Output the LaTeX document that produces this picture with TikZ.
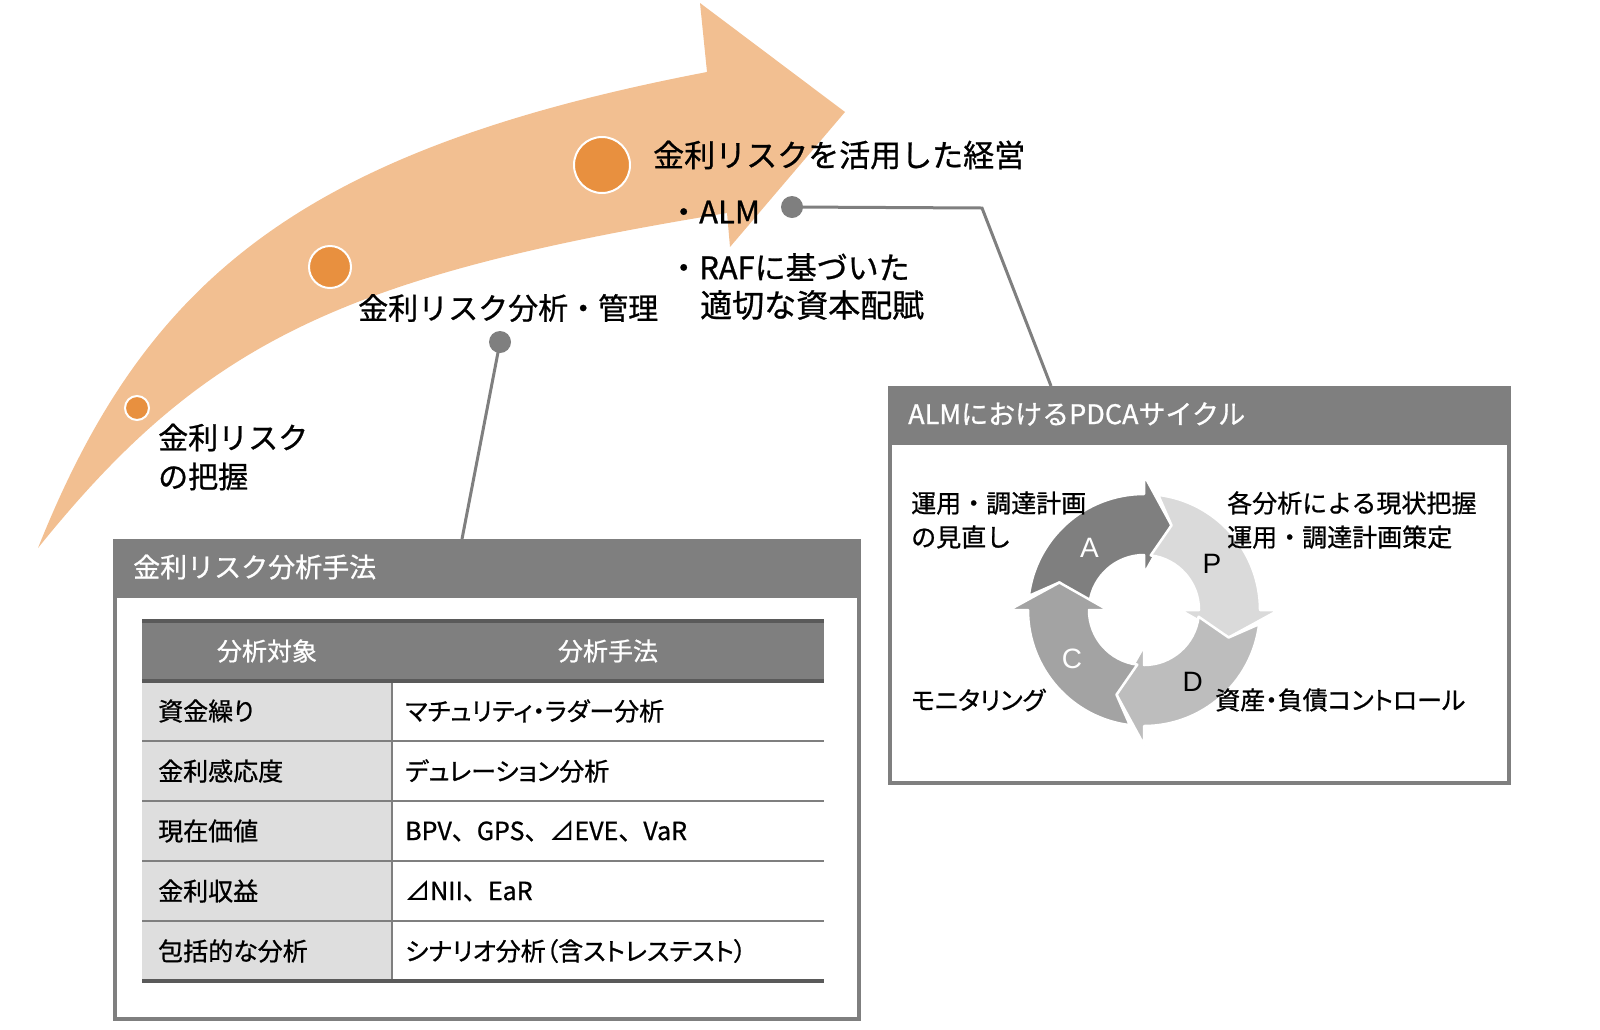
\documentclass[tikz,border=0pt]{standalone}
\usepackage{fontspec}
\setmainfont{Noto Sans CJK JP}[FakeBold=0.8]
\newfontfamily\jpp{Noto Sans CJK JP}[FakeBold=0.8, RawFeature=+palt]
\newfontfamily\latfont{Liberation Sans}
\usepackage{tikz}
\usetikzlibrary{positioning}
\definecolor{eOrange}{HTML}{F2BF91}
\definecolor{eDot}{HTML}{E8903F}
\definecolor{eGray}{HTML}{7F7F7F}
\definecolor{eDark}{HTML}{5A5A5A}
\definecolor{eCell}{HTML}{DEDEDE}
\definecolor{cA}{HTML}{7F7F7F}
\definecolor{cP}{HTML}{DADADA}
\definecolor{cD}{HTML}{BDBDBD}
\definecolor{cC}{HTML}{A3A3A3}
\tikzset{stage/.style={circle, draw=white, line width=2pt, fill=eDot, inner sep=0pt}}
\tikzset{knob/.style={circle, fill=eGray, inner sep=0pt, minimum size=22pt}}
\tikzset{conn/.style={draw, eGray, line width=3pt}}
\tikzset{txt/.style={anchor=west, inner sep=0pt, align=left,
  font=\fontsize{31pt}{39pt}\selectfont}}
\tikzset{frame/.style={draw=eGray, line width=4pt, fill=white, inner sep=0pt,
  anchor=north west}}
\tikzset{band/.style={draw=eGray, line width=4pt, fill=eGray, inner sep=0pt,
  anchor=north west, minimum height=55pt}}
\tikzset{ttl/.style={anchor=west, inner sep=0pt, white,
  font=\fontsize{27pt}{32pt}\selectfont}}
\tikzset{cell/.style={anchor=west, inner sep=0pt,
  font=\jpp\fontsize{25pt}{30pt}\selectfont}}
\tikzset{hcell/.style={inner sep=0pt, white, font=\fontsize{25pt}{30pt}\selectfont}}
\tikzset{lbl/.style={anchor=west, inner sep=0pt, align=left,
  font=\jpp\fontsize{25pt}{34pt}\selectfont}}
\tikzset{grid/.style={draw, eGray, line width=1.5pt}}
\tikzset{rule/.style={draw, eDark, line width=3.5pt}}
\tikzset{pdca/.style={draw=white, line width=2.5pt, line join=round}}

\begin{document}
\begin{tikzpicture}[x=1pt, y=1pt]
  \useasboundingbox (0,0) rectangle (1600,-1029);
  %% big arrow
  \fill[eOrange] (38,-548) .. controls (145,-280) and (300,-150) .. (707,-72)
    -- (700,-3) -- (845,-112) -- (730,-247) -- (727,-213)
    .. controls (341,-276) and (203,-343) .. (38,-548) -- cycle;
  \node (s1) at (137,-408) [stage, minimum size=24pt] {};
  \node (s2) at (330,-267) [stage, minimum size=42pt] {};
  \node (s3) at (602,-165) [stage, minimum size=56pt] {};
  %%
  \node (t1) at (158,-457) [txt, font=\fontsize{30pt}{39pt}\selectfont] {金利リスク\\の把握};
  \node (t2) at (358,-308) [txt, font=\fontsize{30pt}{39pt}\selectfont] {金利リスク分析・管理};
  \node (t3) at (653,-155) [txt] {金利リスクを活用した経営};
  \node (t4) at (668,-212) [txt] {・ALM};
  \node (t5) at (668,-267) [txt] {・RAFに基づいた};
  \node (t6) at (700,-305) [txt, font=\fontsize{32pt}{39pt}\selectfont] {適切な資本配賦};
  %% connectors
  \node (kALM) at (792,-207) [knob] {};
  \coordinate (kALMb) at (982,-208);
  \coordinate (kALMe) at (1051,-386);
  \draw[conn] (kALM.center) -- (kALMb) -- (kALMe);
  \node (kMgmt) at (500,-342) [knob] {};
  \coordinate (kMgmte) at (462,-539);
  \draw[conn] (kMgmt.center) -- (kMgmte);
  %% table box
  \node (tbox) at (113,-539) [frame, minimum width=744pt, minimum height=478pt] {};
  \node (tband) at (113,-539) [band, minimum width=744pt] {};
  \node (ttitle) at (133,-567) [ttl] {金利リスク分析手法};
  \fill[eGray] (142,-621) rectangle (824,-681);
  \fill[eCell] (142,-681) rectangle (392,-981);
  \foreach \yy in {741,801,861,921}
    \draw[grid] (142,-\yy) -- (824,-\yy);
  \draw[grid] (392,-621) -- (392,-981);
  \draw[rule] (142,-621) -- (824,-621);
  \draw[rule] (142,-681) -- (824,-681);
  \draw[rule, line width=4pt] (142,-981) -- (824,-981);
  \node (h1) at (267,-651) [hcell] {分析対象};
  \node (h2) at (608,-651) [hcell] {分析手法};
  \foreach \yy/\a/\b [count=\i] in {711/資金繰り/マチュリティ・ラダー分析,
      771/金利感応度/デュレーション分析,
      831/現在価値/{\rmfamily BPV、GPS、⊿EVE、VaR},
      891/金利収益/{\rmfamily ⊿NII、EaR},
      951/包括的な分析/シナリオ分析（含ストレステスト）}{
    \node (lc\i) at (158,-\yy) [cell] {\a};
    \node (rc\i) at (405,-\yy) [cell] {\b};
  }
  %% PDCA box
  \node (pbox) at (888,-386) [frame, minimum width=619pt, minimum height=395pt] {};
  \node (pband) at (888,-386) [band, minimum width=619pt] {};
  \node (ptitle) at (908,-414) [ttl] {ALMにおけるPDCAサイクル};
  \coordinate (cyc) at (1144,-610);
  \begin{scope}[shift={(cyc)}]
    \foreach \rot/\col in {0/cA, -90/cP, -180/cD, 90/cC}{
      \begin{scope}[rotate=\rot]
        \path[pdca, fill=\col] (173:116) arc[start angle=173, end angle=90, radius=116pt]
          -- (90:135) -- (72:89) -- (90:36) -- (90:55)
          arc[start angle=90, end angle=173, radius=55pt] -- (162:89) -- cycle;
      \end{scope}
    }
    \foreach \ang/\r/\l/\c in {131/83/A/white, 34/82/P/black, -56/87/D/black, 214/87/C/white}
      \node (let\l) at (\ang:\r) [inner sep=0pt, \c, font=\latfont\fontsize{28pt}{32pt}\selectfont] {\l};
  \end{scope}
  \node (p1) at (911,-520) [lbl, font=\fontsize{25pt}{34pt}\selectfont] {運用・調達計画\\の見直し};
  \node (p2) at (1227,-520) [lbl, font=\fontsize{25pt}{34pt}\selectfont] {各分析による現状把握\\運用・調達計画策定};
  \node (p3) at (911,-700) [lbl] {モニタリング};
  \node (p4) at (1215,-700) [lbl] {資産・負債コントロール};
\end{tikzpicture}
\end{document}
